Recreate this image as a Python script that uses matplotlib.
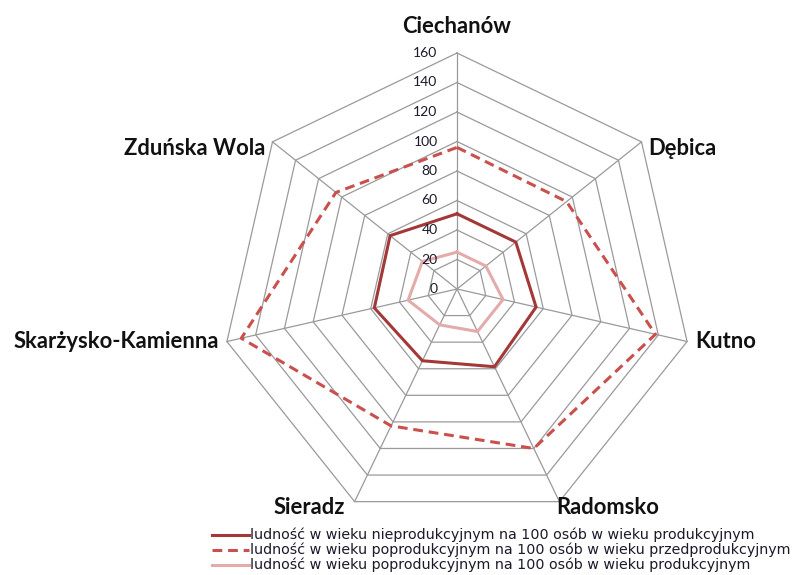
import numpy as np
import matplotlib
matplotlib.use("Agg")
import matplotlib.pyplot as plt
from matplotlib.lines import Line2D

categories = ["Ciechanów", "Dębica", "Kutno", "Radomsko", "Sieradz",
              "Skarżysko-Kamienna", "Zduńska Wola"]
nonproductive = [51, 51, 55, 58.5, 54, 57.5, 58]
post_per_pre = [96, 95, 138, 120, 103, 150, 105]
post_per_productive = [25, 25, 32, 32, 27, 34, 30]
series_names = [
    "ludność w wieku nieprodukcyjnym na 100 osób w wieku produkcyjnym",
    "ludność w wieku poprodukcyjnym na 100 osób w wieku przedprodukcyjnym",
    "ludność w wieku poprodukcyjnym na 100 osób w wieku produkcyjnym",
]
ticks = [0, 20, 40, 60, 80, 100, 120, 140, 160]

W, H = 801, 575
fig = plt.figure(figsize=(W / 100, H / 100), dpi=100)
cx, cy, R = 457, 289, 236
ax = fig.add_axes([(cx - R) / W, (H - cy - R) / H, 2 * R / W, 2 * R / H],
                  projection="polar")
ax.set_theta_zero_location("N")
ax.set_theta_direction(-1)
ax.set_ylim(0, 160)
ax.grid(False)
ax.spines["polar"].set_visible(False)
ax.set_xticks([])
ax.set_yticks([])
ax.patch.set_alpha(0)

n = len(categories)
angles = np.arange(n) * 2 * np.pi / n
closed = np.append(angles, angles[0])

gc = "#9a9a9a"
for t in ticks[1:]:
    ax.plot(closed, [t] * (n + 1), color=gc, lw=0.9, zorder=1, clip_on=False)
for a in angles:
    ax.plot([a, a], [0, 160], color=gc, lw=0.9, zorder=1, clip_on=False)

c_solid = "#A23938"
c_dash = "#C9504D"
c_light = "#E3ABAA"

def closeit(v):
    return list(v) + [v[0]]

ax.plot(closed, closeit(nonproductive), color=c_solid, lw=2.2, zorder=3,
        solid_joinstyle="miter")
ax.plot(closed, closeit(post_per_pre), color=c_dash, lw=2.2, zorder=3,
        linestyle=(0, (3.2, 1.9)))
ax.plot(closed, closeit(post_per_productive), color=c_light, lw=2.2, zorder=3,
        solid_joinstyle="miter")

# radial tick labels along the top spoke
for t in ticks:
    ax.annotate(str(t), xy=(0, t), xytext=(-14, 0), textcoords="offset points",
                ha="right", va="center", fontsize=10, color="#1a1a2a",
                family="Lato", annotation_clip=False)

# category labels
offsets = [
    ((0, 19), "center", "center"),
    ((5, -5), "left", "center"),
    ((6, 0), "left", "center"),
    ((-2, -4), "left", "center"),
    ((-7, -4), "right", "center"),
    ((-6, 0), "right", "center"),
    ((-5, -5), "right", "center"),
]
for a, name, (off, ha, va) in zip(angles, categories, offsets):
    ax.annotate(name, xy=(a, 160), xytext=off, textcoords="offset points",
                ha=ha, va=va, fontsize=15.8, fontweight="bold", color="#111111",
                family="Lato", annotation_clip=False)

# legend
styles = [
    dict(color=c_solid, lw=2.2, linestyle="-"),
    dict(color=c_dash, lw=2.2, linestyle=(0, (3.2, 1.9))),
    dict(color=c_light, lw=2.2, linestyle="-"),
]
rows_y = [535, 550, 565]
for name, st, y in zip(series_names, styles, rows_y):
    yf = 1 - y / H
    fig.add_artist(Line2D([212 / W, 249 / W], [yf, yf], transform=fig.transFigure, **st))
    fig.text(250 / W, yf, name, ha="left", va="center", fontsize=10.3,
             color="#1a1a2a", family="DejaVu Sans")

fig.savefig("out.png", dpi=100)
